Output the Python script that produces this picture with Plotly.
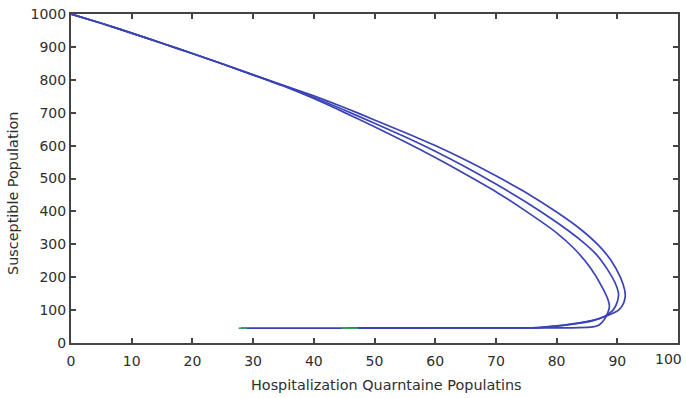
import plotly.graph_objects as go

# Curve A (outermost upper branch)
a_h = [0, 5, 10, 15, 20, 25, 30, 35, 40, 45, 50, 55, 60, 65, 70, 75, 80, 84, 87, 89, 90.5, 91.2, 91.3, 91.0, 90.2, 89.0, 87.0, 84.0, 80.0, 77.0, 70.0, 60.0, 50.0, 40.0, 28.0]
a_s = [1000, 972, 942, 911, 880, 848, 815, 783, 751, 716, 678, 640, 600, 556, 508, 457, 398, 345, 295, 250, 200, 162, 140, 120, 100, 88, 74, 62, 52, 47, 46, 46, 46, 45, 45]

# Curve B (middle)
b_h = [0, 5, 10, 15, 20, 25, 30, 35, 40, 45, 50, 55, 60, 65, 70, 75, 80, 84, 86.5, 88.5, 89.7, 90.2, 90.0, 89.3, 88.0, 86.0, 83.0, 80.0, 77.0, 70.0, 60.0, 45.5]
b_s = [1000, 972, 942, 911, 880, 848, 815, 782, 746, 708, 668, 627, 583, 535, 483, 428, 367, 312, 270, 220, 180, 150, 125, 100, 82, 68, 58, 51, 47, 46, 46, 45]

# Curve C (innermost upper branch)
c_h = [0, 5, 10, 15, 20, 25, 30, 35, 40, 45, 50, 55, 60, 65, 70, 75, 80, 83, 85.5, 87.5, 88.5, 88.7, 88.4, 87.8, 87.0, 85.5, 82.0, 70.0, 60.0, 46.5]
c_s = [1000, 972, 942, 911, 880, 848, 815, 781, 743, 701, 657, 612, 564, 513, 460, 400, 335, 285, 230, 170, 130, 110, 90, 70, 55, 48, 46, 46, 46, 45]

# end markers (green)
end_h = [28.3, 45.3, 46.6]
end_s = [45, 45, 45]

x_ticks = list(range(0, 101, 10))
y_ticks = list(range(0, 1001, 100))

line_color = "#3a44b6"
text_color = "#2e2e2e"

fig = go.Figure()
for hx, sy in [(a_h, a_s), (b_h, b_s), (c_h, c_s)]:
    fig.add_trace(go.Scatter(x=hx, y=sy, mode="lines",
                             line=dict(color=line_color, width=1.7, shape="spline", smoothing=0.6),
                             showlegend=False, hoverinfo="skip"))
fig.add_trace(go.Scatter(x=end_h, y=end_s, mode="markers",
                         marker=dict(symbol="line-ew", size=6, line=dict(color="#3aa05a", width=1.5)),
                         showlegend=False, hoverinfo="skip"))

axis_common = dict(showgrid=False, zeroline=False, showline=True, linecolor="#444444", linewidth=2,
                   mirror="allticks", ticks="inside", ticklen=5, tickcolor="#444444", tickwidth=1.5,
                   tickfont=dict(family="DejaVu Sans", size=14, color=text_color), automargin=False)

fig.update_xaxes(range=[0, 100], tickvals=x_ticks, ticktext=[str(v) for v in x_ticks[:-1]] + [""],
                 ticklabelstandoff=4, **axis_common)
fig.update_yaxes(range=[0, 1000], tickvals=y_ticks, ticktext=[str(v) for v in y_ticks], **axis_common)

PL, PR, PT, PB = 71, 678, 14, 343
W = PR - PL
H = PB - PT

fig.update_layout(
    width=686, height=398,
    margin=dict(l=PL, r=686 - PR, t=PT, b=398 - PB),
    paper_bgcolor="white", plot_bgcolor="white",
    annotations=[
        dict(text=str(x_ticks[-1]), xref="paper", yref="paper", x=(684 - PL) / W, y=-(359 - PB) / H,
             xanchor="right", yanchor="middle", showarrow=False,
             font=dict(family="DejaVu Sans", size=14, color=text_color)),
        dict(text="Hospitalization Quarntaine Populatins", xref="paper", yref="paper",
             x=(386 - PL) / W, y=-(385 - PB) / H, xanchor="center", yanchor="middle",
             showarrow=False, font=dict(family="DejaVu Sans", size=14.4, color=text_color)),
        dict(text="Susceptible Population", xref="paper", yref="paper",
             x=-(PL - 13) / W, y=(PB - 194) / H, xanchor="center", yanchor="middle",
             textangle=-90, showarrow=False, font=dict(family="DejaVu Sans", size=14.4, color=text_color)),
    ],
)

fig.write_html("out.html")
